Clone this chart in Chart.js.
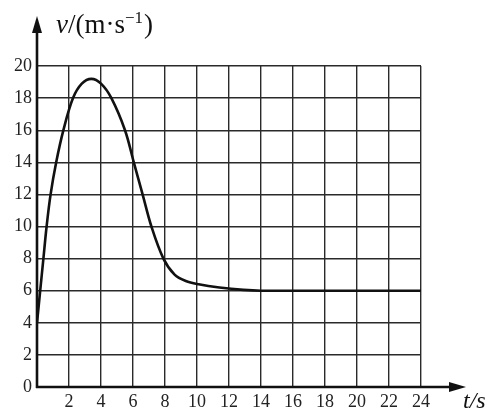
<!DOCTYPE html>
<html>
<head>
<meta charset="utf-8">
<script src="https://cdn.jsdelivr.net/npm/chart.js@4"></script>
<style>
  body { margin: 0; background: #fff; }
  #vt_chart { display: block; }
</style>
</head>
<body>
<canvas id="vt_chart" width="494" height="416"></canvas>
<script>
// speed vs time
const timeS = [0, 0.2, 0.4, 0.6, 0.85, 1.2, 1.65, 2.25, 2.8, 3.4, 4.0, 4.65, 5.5, 6.05, 6.6, 7.15, 7.9, 8.6, 9.3, 10.1, 11.4, 12.9, 14, 24];
const speed = [4, 6, 8, 10, 12, 14, 16, 18, 18.9, 19.2, 18.9, 18, 16, 14, 12, 10, 8, 7, 6.6, 6.4, 6.2, 6.05, 6, 6];

const xTicks = [0, 2, 4, 6, 8, 10, 12, 14, 16, 18, 20, 22, 24];
const yTicks = [0, 2, 4, 6, 8, 10, 12, 14, 16, 18, 20];

const SERIF = "'Liberation Serif', 'DejaVu Serif', serif";

Chart.defaults.font.family = SERIF;
Chart.defaults.font.size = 18;
Chart.defaults.color = '#222';

// axis lines with arrow heads + axis titles
const axesPlugin = {
  id: 'axes',
  afterDraw(chart) {
    const c = chart.ctx;
    const xs = chart.scales.x, ys = chart.scales.y;
    const x0 = xs.getPixelForValue(0);
    const y0 = ys.getPixelForValue(0);
    c.save();
    c.strokeStyle = '#111';
    c.fillStyle = '#111';
    c.lineWidth = 2.6;
    // y axis
    c.beginPath();
    c.moveTo(x0, y0 + 1);
    c.lineTo(x0, 30);
    c.stroke();
    c.beginPath();
    c.moveTo(x0, 16);
    c.lineTo(x0 - 5, 33);
    c.lineTo(x0 + 5, 33);
    c.closePath();
    c.fill();
    // x axis
    c.beginPath();
    c.moveTo(x0 - 1, y0);
    c.lineTo(452, y0);
    c.stroke();
    c.beginPath();
    c.moveTo(466, y0);
    c.lineTo(449, y0 - 5);
    c.lineTo(449, y0 + 5);
    c.closePath();
    c.fill();

    // titles
    c.textBaseline = 'alphabetic';
    c.textAlign = 'left';
    let x = 56;
    const base = 33;
    c.font = 'italic 27px ' + SERIF;
    c.fillText('v', x, base);
    x += c.measureText('v').width;
    c.font = '27px ' + SERIF;
    c.fillText('/(m\u00B7s', x, base);
    x += c.measureText('/(m\u00B7s').width;
    c.font = '17px ' + SERIF;
    c.fillText('\u2212', x, base - 10);
    x += c.measureText('\u2212').width;
    c.fillText('1', x, base - 10);
    x += c.measureText('1').width + 1;
    c.font = '27px ' + SERIF;
    c.fillText(')', x, base);

    c.font = 'italic 24px ' + SERIF;
    c.fillText('t/s', 463, 408);
    c.restore();
  }
};

const ctx = document.getElementById('vt_chart');
const vtChart = new Chart(ctx, {
  type: 'scatter',
  data: {
    datasets: [{
      data: timeS.map((t, i) => ({ x: t, y: speed[i] })),
      showLine: true,
      borderColor: '#111',
      borderWidth: 2.6,
      pointRadius: 0,
      fill: false,
      tension: 0.35
    }]
  },
  options: {
    responsive: false,
    animation: false,
    layout: {
      padding: { left: 0, top: 66, right: 73, bottom: 0 }
    },
    scales: {
      x: {
        type: 'linear',
        min: 0,
        max: 24,
        afterFit: s => { s.height = 29; },
        afterBuildTicks: s => { s.ticks = xTicks.map(v => ({ value: v })); },
        grid: { color: '#2a2a2a', lineWidth: 1.4, drawTicks: false },
        border: { display: false },
        ticks: {
          padding: 4,
          maxRotation: 0,
          autoSkip: false,
          callback: v => (v === 0 ? '' : v)
        }
      },
      y: {
        type: 'linear',
        min: 0,
        max: 20,
        afterFit: s => { s.width = 37; },
        afterBuildTicks: s => { s.ticks = yTicks.map(v => ({ value: v })); },
        grid: { color: '#2a2a2a', lineWidth: 1.4, drawTicks: false },
        border: { display: false },
        ticks: {
          padding: 5,
          autoSkip: false
        }
      }
    },
    plugins: {
      legend: { display: false },
      tooltip: { enabled: false }
    }
  },
  plugins: [axesPlugin]
});
</script>
</body>
</html>
